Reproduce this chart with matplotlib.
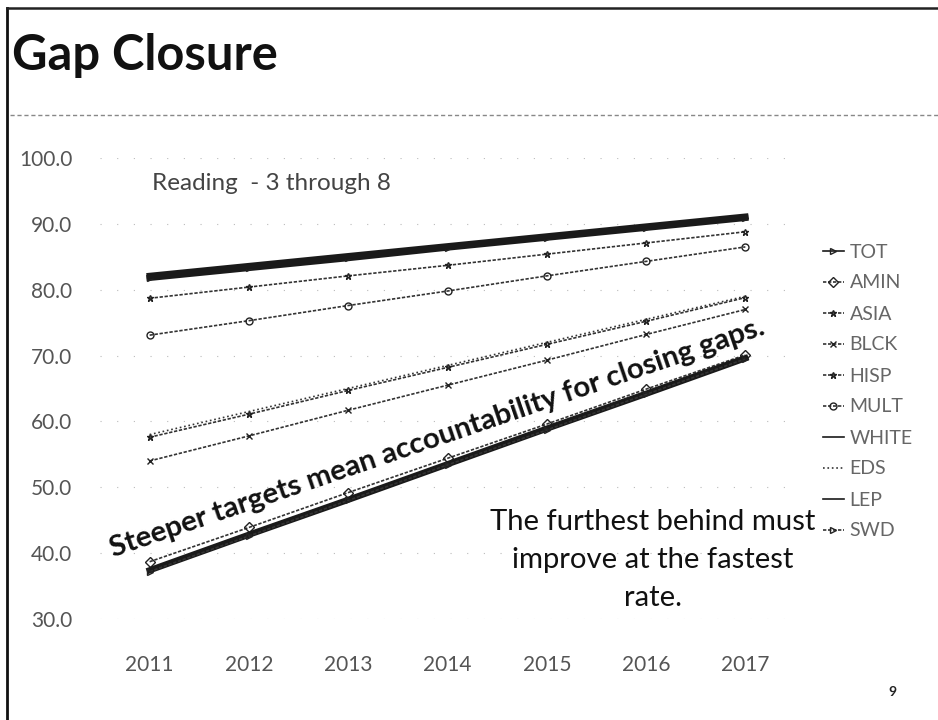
import math
import matplotlib.pyplot as plt
from matplotlib.lines import Line2D

years = ["2011", "2012", "2013", "2014", "2015", "2016", "2017"]

# target percentages (reading, grades 3-8)
tot = [81.8, 83.3, 84.8, 86.4, 87.9, 89.4, 90.9]
amin = [38.7, 43.9, 49.2, 54.4, 59.6, 64.9, 70.1]
asia = [78.7, 80.4, 82.1, 83.7, 85.4, 87.1, 88.8]
blck = [54.0, 57.8, 61.7, 65.5, 69.3, 73.2, 77.0]
hisp = [57.6, 61.1, 64.7, 68.2, 71.7, 75.2, 78.8]
mult = [73.1, 75.3, 77.6, 79.8, 82.1, 84.3, 86.5]
white = [82.1, 83.6, 85.1, 86.6, 88.1, 89.6, 91.1]
eds = [58.0, 61.5, 65.0, 68.5, 72.0, 75.5, 79.0]
lep = [37.4, 42.8, 48.1, 53.5, 58.9, 64.2, 69.6]
swd = [37.2, 42.6, 48.0, 53.4, 58.7, 64.1, 69.5]

labels = ["TOT", "AMIN", "ASIA", "BLCK", "HISP", "MULT", "WHITE", "EDS", "LEP", "SWD"]
series = [tot, amin, asia, blck, hisp, mult, white, eds, lep, swd]
yticks = [30, 40, 50, 60, 70, 80, 90, 100]

# (linewidth, marker, linestyle) per series, in legend order
styles = [
    (4.5, ">", "-"),
    (1.2, "D", (0, (2, 1))),
    (1.2, "*", (0, (2, 1))),
    (1.2, "x", (0, (2, 1))),
    (1.2, "*", (0, (2, 1))),
    (1.2, "o", (0, (2, 1))),
    (4.5, "", "-"),
    (1.2, "", ":"),
    (4.5, "", "-"),
    (1.2, ">", (0, (2, 1))),
]

plt.rcParams["font.family"] = ["Lato", "DejaVu Sans"]

W, H = 938, 720
fig = plt.figure(figsize=(W / 100, H / 100), dpi=100)
fig.patch.set_facecolor("white")
renderer = fig.canvas.get_renderer()


def fit_width(t, target_px):
    # scale font so the (unrotated) text is target_px wide
    w = t.get_window_extent(renderer=renderer).width
    t.set_fontsize(t.get_fontsize() * target_px / w)


# slide frame
fig.add_artist(Line2D([7 / W, 7 / W], [0, 1 - 8 / H], color="#111", lw=2))
fig.add_artist(Line2D([7 / W, 1], [1 - 8 / H, 1 - 8 / H], color="#222", lw=1.8))
fig.add_artist(Line2D([10 / W, 1], [1 - 115 / H, 1 - 115 / H], color="#888",
                      lw=1.0, ls=(0, (3, 2))))

title = fig.text(12 / W, 1 - 70 / H, "Gap Closure", fontsize=37, fontweight="bold",
                 va="baseline", ha="left", color="#111")
fit_width(title, 266)
fig.text(892 / W, 1 - 692 / H, "9", fontsize=10, fontweight="bold",
         ha="center", va="center", color="#222")

# plot area
left, right = 100, 795
top, bottom = 158, 619
ax = fig.add_axes([left / W, 1 - bottom / H, (right - left) / W, (bottom - top) / H])
x = list(range(len(years)))

for vals, lab, (lw, mk, ls) in zip(series, labels, styles):
    ax.plot(x, vals, color="#1a1a1a" if lw > 2 else "#333", lw=lw, ls=ls,
            marker=mk, ms=5, mfc="none", mec="#222", mew=1.0, label=lab)

ax.set_xlim(-0.5, len(years) - 0.5)
ax.set_ylim(30, 100)
ax.set_xticks(x)
ax.set_xticklabels(years)
ax.set_yticks(yticks)
ax.set_yticklabels([f"{v:.1f}" for v in yticks])
ax.tick_params(axis="both", length=0, labelsize=15, labelcolor="#555")
ax.tick_params(axis="y", pad=20)
ax.tick_params(axis="x", pad=26)
for s in ax.spines.values():
    s.set_visible(False)
ax.grid(axis="y", color="#bbb", lw=0.8, ls=(0, (1, 14)))
ax.set_axisbelow(True)

sub = fig.text(152 / W, 1 - 183 / H, "Reading  - 3 through 8", fontsize=15,
               color="#444", ha="left", va="center")
fit_width(sub, 238)

leg = ax.legend(loc="upper left", bbox_to_anchor=(805 / W, 1 - 226 / H),
                bbox_transform=fig.transFigure, frameon=False, fontsize=14,
                handlelength=1.1, handletextpad=0.3, labelspacing=0.72,
                labelcolor="#666")
for h in leg.get_lines():
    h.set_linewidth(1.2)
    h.set_markersize(5)

# rotated note: baseline from (113, 557) to (768, 333) in pixels
x0, y0, x1, y1 = 113, 557, 768, 333
steep = fig.text(x0 / W, 1 - y0 / H, "Steeper targets mean accountability for closing gaps.",
                 fontsize=18, fontweight="bold", rotation_mode="anchor",
                 ha="left", va="baseline", color="#111")
fit_width(steep, math.hypot(x1 - x0, y0 - y1))
steep.set_rotation(math.degrees(math.atan2(y0 - y1, x1 - x0)))

line1 = fig.text(653 / W, 1 - 522 / H, "The furthest behind must", fontsize=20,
                 ha="center", va="center", color="#111")
fit_width(line1, 327)
fs = line1.get_fontsize()
fig.text(653 / W, 1 - 560 / H, "improve at the fastest", fontsize=fs,
         ha="center", va="center", color="#111")
fig.text(653 / W, 1 - 598 / H, "rate.", fontsize=fs,
         ha="center", va="center", color="#111")

fig.savefig("out.png", dpi=100)
